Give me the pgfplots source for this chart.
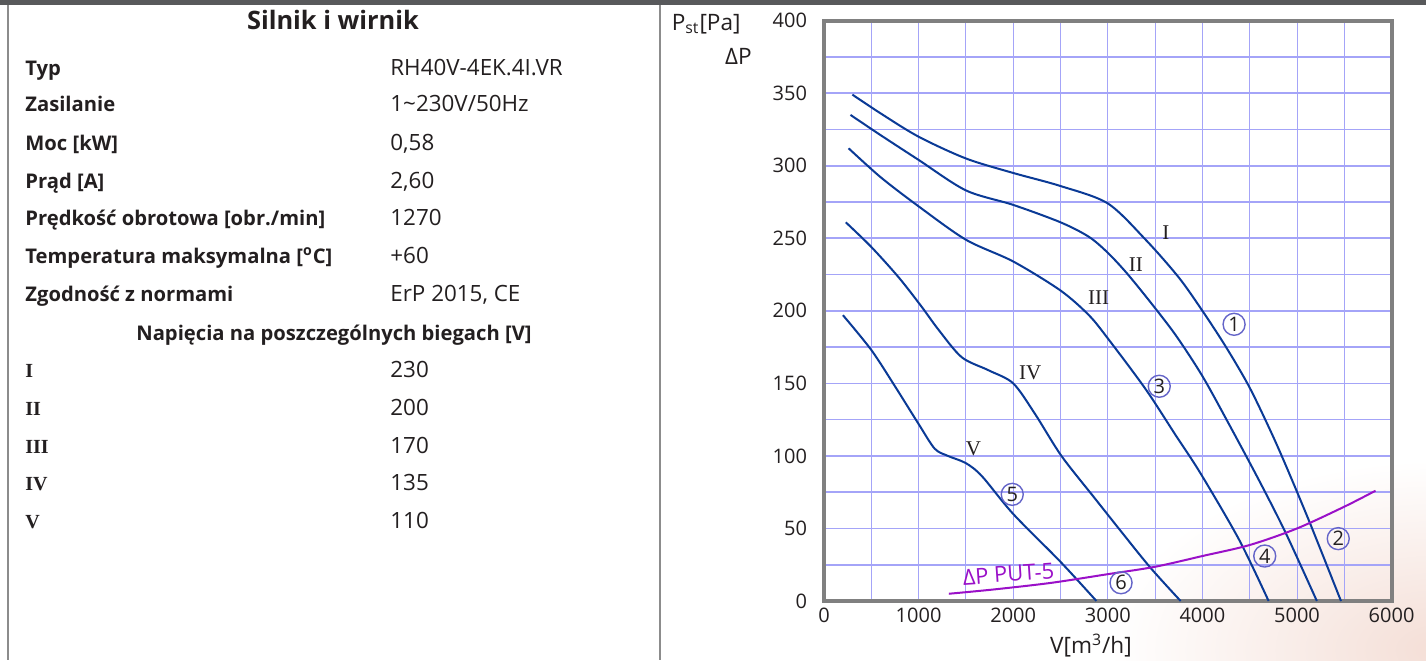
\documentclass[border=0pt]{standalone}
\usepackage{pgfplots}
\pgfplotsset{compat=1.18}
\usepackage{fontspec}
\setmainfont{Open Sans}
\newfontfamily\romfont{Liberation Serif}

\definecolor{curve}{HTML}{0A3A96}
\definecolor{gridc}{HTML}{A4A4F8}
\definecolor{ringc}{HTML}{6464C8}
\definecolor{putc}{HTML}{9A10C8}
\definecolor{framec}{HTML}{808080}
\definecolor{bandc}{HTML}{58595B}
\definecolor{rulec}{HTML}{8C8C8C}
\definecolor{txt}{HTML}{231F20}
\definecolor{blush}{HTML}{F4DED6}

\newcommand{\labfont}{\fontsize{10.1}{12}\selectfont}
\newcommand{\valfont}{\fontsize{11.2}{13}\selectfont}
\newcommand{\romrow}{\romfont\bfseries\fontsize{10}{12}\selectfont}
\newcommand{\tickfont}{\fontsize{10}{12}\selectfont}
\newcommand{\titlefont}{\fontsize{11.3}{13}\selectfont}

\begin{document}
\begin{tikzpicture}
% ---------- page frame, 1 unit = 0.5pt, y downward ----------
\begin{scope}[x=0.5pt,y=-0.5pt]
  \fill[white] (0,0) rectangle (1426,660);
  \useasboundingbox (0,0) rectangle (1426,660);
  \begin{scope}
    \clip (0,0) rectangle (1426,660);
    \shade[inner color=blush, outer color=white] (1440,650) ellipse (330 and 190);
  \end{scope}
  \fill[bandc] (0,0) rectangle (1426,5);
  \draw[rulec, line width=0.8pt] (8,5) -- (8,660);
  \draw[rulec, line width=0.8pt] (660,5) -- (660,660);

  % motor data table
  \node[font=\bfseries\fontsize{12.7}{15}\selectfont, text=txt, anchor=base] at (333,29) {Silnik i wirnik};
  \begin{scope}[every node/.style={anchor=base west, text=txt, inner sep=0pt}]
    \node[font=\labfont\bfseries] at (25,75)  {Typ};
    \node[font=\valfont]          at (390,75) {RH40V-4EK.4I.VR};
    \node[font=\labfont\bfseries] at (25,111) {Zasilanie};
    \node[font=\valfont]          at (390,111) {1\textasciitilde230V/50Hz};
    \node[font=\labfont\bfseries] at (25,150) {Moc [kW]};
    \node[font=\valfont]          at (390,150) {0,58};
    \node[font=\labfont\bfseries] at (25,188) {Prąd [A]};
    \node[font=\valfont]          at (390,188) {2,60};
    \node[font=\labfont\bfseries] at (25,225) {Prędkość obrotowa [obr./min]};
    \node[font=\valfont]          at (390,225) {1270};
    \node[font=\labfont\bfseries] at (25,263) {Temperatura maksymalna [\textsuperscript{o}C]};
    \node[font=\valfont]          at (390,263) {+60};
    \node[font=\labfont\bfseries] at (25,301) {Zgodność z normami};
    \node[font=\valfont]          at (390,301) {ErP 2015, CE};
    \node[font=\romrow]           at (25,377) {I};
    \node[font=\valfont]          at (390,377) {230};
    \node[font=\romrow]           at (25,415) {II};
    \node[font=\valfont]          at (390,415) {200};
    \node[font=\romrow]           at (25,453) {III};
    \node[font=\valfont]          at (390,453) {170};
    \node[font=\romrow]           at (25,490) {IV};
    \node[font=\valfont]          at (390,490) {135};
    \node[font=\romrow]           at (25,528) {V};
    \node[font=\valfont]          at (390,528) {110};
  \end{scope}
  \node[font=\labfont\bfseries, text=txt, anchor=base, inner sep=0pt] at (334,340) {Napięcia na poszczególnych biegach [V]};

  % axis titles
  \node[font=\titlefont, text=txt, anchor=base east, inner sep=0pt] at (741,30) {P\textsubscript{st}[Pa]};
  \node[font=\titlefont, text=txt, anchor=base east, inner sep=0pt] at (752,64) {ΔP};
  \node[font=\titlefont, text=txt, anchor=base, inner sep=0pt] at (1091,653) {V[m\textsuperscript{3}/h]};
\end{scope}

% ---------- fan curves ----------
\begin{axis}[
  at={(412pt,-300.5pt)}, anchor=south west,
  scale only axis, width=283.8pt, height=290.2pt,
  xmin=0, xmax=6000, ymin=0, ymax=400,
  xtick={0,1000,...,6000}, ytick={0,50,...,400},
  minor x tick num=1, minor y tick num=1,
  grid=both,
  major grid style={gridc},
  minor grid style={gridc},
  x grid style={gridc, line width=0.5pt},
  y grid style={gridc, line width=0.8pt},
  axis line style={framec, line width=2pt},
  tick style={draw=none},
  ticklabel style={font=\tickfont, text=txt},
  yticklabel style={xshift=-5pt},
  /pgf/number format/assume math mode=true,
  /pgf/number format/1000 sep={},
  clip=false,
]
% speed I
\addplot[curve, line width=1pt, smooth, tension=0.5] coordinates {
 (300,349) (600,336) (1000,320) (1500,305) (2000,295) (2500,286) (3000,274)
 (3400,249) (3750,223) (4000,200) (4250,175) (4500,147) (4750,113) (4950,83)
 (5160,50) (5465,0)};
% speed II
\addplot[curve, line width=1pt, smooth, tension=0.5] coordinates {
 (280,335) (600,321) (1000,304) (1500,283) (2000,273) (2500,261) (2800,251)
 (3000,240) (3200,226) (3450,206) (3720,183) (4000,155) (4280,122) (4600,83)
 (4880,47) (5210,0)};
% speed III
\addplot[curve, line width=1pt, smooth, tension=0.5] coordinates {
 (260,312) (600,292) (1000,272) (1500,249) (2000,234) (2500,214) (2800,197)
 (3000,181) (3400,146) (3720,114) (3980,88) (4390,42) (4700,0)};
% speed IV
\addplot[curve, line width=1pt, smooth, tension=0.5] coordinates {
 (230,261) (500,244) (790,223) (1030,203) (1210,187) (1456,168) (1740,159)
 (2000,150) (2230,129) (2510,100) (2860,71) (3140,48) (3450,23) (3770,0)};
% speed V
\addplot[curve, line width=1pt, smooth, tension=0.5] coordinates {
 (200,197) (500,173) (750,148) (1000,122) (1170,105) (1310,100) (1500,95)
 (1670,86) (2000,60) (2500,27) (2880,0)};
% pressure drop of PUT-5
\addplot[putc, line width=1pt, smooth] coordinates {
 (1320,5) (1800,8) (2400,12.5) (3000,18.5) (3500,23.6) (4000,31) (4500,38.6)
 (5000,50) (5500,65) (5830,76)};

\begin{scope}[every node/.style={font=\romfont\fontsize{10.5}{12}\selectfont, text=txt}]
  \node at (axis cs:3615,254) {I};
  \node at (axis cs:3298,232) {II};
  \node at (axis cs:2904,209) {III};
  \node at (axis cs:2180,157) {IV};
  \node at (axis cs:1579,105) {V};
\end{scope}
\begin{scope}[every node/.style={circle, draw=ringc, line width=0.7pt, inner sep=0pt,
    minimum size=11pt, font=\tickfont, text=txt}]
  \node at (axis cs:4335,190.7) {1};
  \node at (axis cs:5436,43) {2};
  \node at (axis cs:3544,148) {3};
  \node at (axis cs:4659,31) {4};
  \node at (axis cs:1990,73.5) {5};
  \node at (axis cs:3140,12.6) {6};
\end{scope}
\node[font=\fontsize{11}{13}\selectfont, text=putc, rotate=4, inner sep=0pt] at (axis cs:1950,18.5) {ΔP PUT-5};
\end{axis}
\end{tikzpicture}
\end{document}
